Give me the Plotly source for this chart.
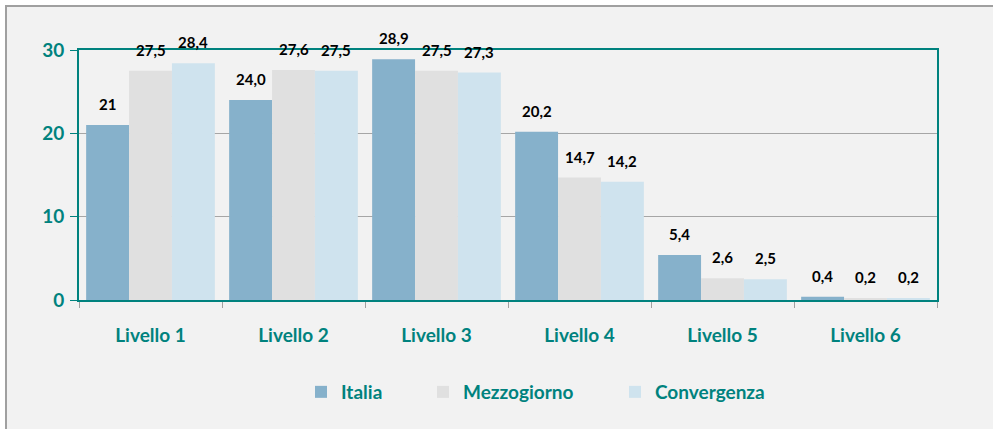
import plotly.graph_objects as go

categories = ["Livello 1", "Livello 2", "Livello 3", "Livello 4", "Livello 5", "Livello 6"]
italia = [21.0, 24.0, 28.9, 20.2, 5.4, 0.4]
mezzogiorno = [27.5, 27.6, 27.5, 14.7, 2.6, 0.2]
convergenza = [28.4, 27.5, 27.3, 14.2, 2.5, 0.2]
italia_lbl = ["21", "24,0", "28,9", "20,2", "5,4", "0,4"]
mezzogiorno_lbl = ["27,5", "27,6", "27,5", "14,7", "2,6", "0,2"]
convergenza_lbl = ["28,4", "27,5", "27,3", "14,2", "2,5", "0,2"]
y_ticks = [0, 10, 20, 30]

TEAL = "#00827e"
FONT = "Lato"

L, R, T, B = 79, 56, 50, 129
PW, PH = 993 - L - R, 429 - T - B

def px_x(p):
    return (p - L) / PW

def px_y(p):
    return (429 - B - p) / PH

series = [
    ("Italia", italia, italia_lbl, "#86b1cb", "legend", 301),
    ("Mezzogiorno", mezzogiorno, mezzogiorno_lbl, "#e0e0e0", "legend2", 423),
    ("Convergenza", convergenza, convergenza_lbl, "#cfe3ee", "legend3", 615),
]

fig = go.Figure()
offsets = [-1, 0, 1]
for (name, vals, lbls, col, leg, lx), k in zip(series, offsets):
    fig.add_trace(go.Bar(
        x=categories, y=vals, name=name, legend=leg,
        marker=dict(color=col, line=dict(width=0)),
        hoverinfo="skip",
    ))

annotations = []
for (name, vals, lbls, col, leg, lx), k in zip(series, offsets):
    for i, (v, t) in enumerate(zip(vals, lbls)):
        annotations.append(dict(
            x=i + k * 0.3, y=v, xref="x", yref="y", text=t, showarrow=False,
            yanchor="middle", yshift=21,
            font=dict(family=FONT, size=15, color="#000000", weight="bold"),
        ))

legend_font = dict(family=FONT, size=19, color=TEAL, weight="bold")
legends = {}
for (name, vals, lbls, col, leg, lx) in series:
    legends[leg] = dict(
        orientation="h", x=px_x(lx), xanchor="left", y=px_y(392), yanchor="middle",
        font=legend_font, bgcolor="rgba(0,0,0,0)", borderwidth=0,
    )

fig.update_layout(
    width=993, height=429,
    margin=dict(l=L, r=R, t=T, b=B),
    paper_bgcolor="#ffffff", plot_bgcolor="#f2f2f2",
    barmode="group", bargap=0.1, bargroupgap=0,
    annotations=annotations,
    showlegend=True,
    shapes=[dict(type="rect", xref="paper", yref="paper",
                 x0=px_x(6), x1=px_x(1010),
                 y0=px_y(440), y1=px_y(6),
                 fillcolor="#f2f2f2",
                 line=dict(color="#a0a0a0", width=2), layer="below")],
    **legends,
)

fig.update_xaxes(
    type="category", tickson="boundaries",
    showline=True, mirror=True, linecolor=TEAL, linewidth=2,
    ticks="outside", ticklen=6, tickcolor="#a0a0a0", tickwidth=1,
    tickfont=dict(family=FONT, size=19, color=TEAL, weight="bold"),
    ticklabelstandoff=17, showgrid=False,
)
fig.update_yaxes(
    range=[0, 30], tickvals=y_ticks,
    showline=True, mirror=True, linecolor=TEAL, linewidth=2,
    ticks="outside", ticklen=7, tickcolor=TEAL, tickwidth=1,
    tickfont=dict(family=FONT, size=19, color=TEAL, weight="bold"),
    showgrid=True, gridcolor="#a6a6a6", gridwidth=1, zeroline=False,
    ticklabelstandoff=2,
)

fig.write_html("out.html", config={"displayModeBar": False},
               post_script="document.body.style.margin='0';")
